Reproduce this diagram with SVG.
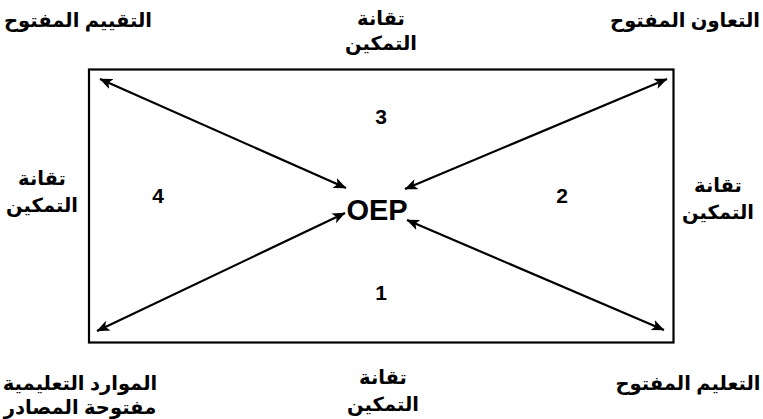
<svg xmlns="http://www.w3.org/2000/svg" width="763" height="419" viewBox="0 0 763 419">
<style>
.t{font-family:"Liberation Sans","DejaVu Sans",sans-serif;font-weight:bold;font-size:19.5px;fill:#000;text-anchor:middle}
.n{font-family:"Liberation Sans",Arial,sans-serif;font-weight:bold;font-size:21px;fill:#000;text-anchor:middle}
.c{stroke:#000;stroke-width:2.2;fill:none;marker-start:url(#a);marker-end:url(#a)}
</style>
<defs>
<marker id="a" viewBox="0 0 12 10" refX="11.5" refY="5" markerWidth="13" markerHeight="11" orient="auto-start-reverse" markerUnits="userSpaceOnUse"><path d="M0,0 L12,5 L0,10 L3,5 z" fill="#000"/></marker>
</defs>
<rect width="763" height="419" fill="#fff"/>
<g id="frame"><rect x="89" y="69.5" width="584.5" height="273" fill="none" stroke="#000" stroke-width="2.2"/></g>
<g id="connectors">
<line class="c" x1="100" y1="79" x2="346" y2="188"/>
<line class="c" x1="667" y1="79" x2="405" y2="189"/>
<line class="c" x1="97" y1="331" x2="345" y2="213"/>
<line class="c" x1="664" y1="330" x2="407" y2="220"/>
</g>
<g id="oep"><text class="n" x="377" y="220" style="font-size:29px">OEP</text></g>
<g id="q1"><text class="n" x="381" y="300">1</text></g>
<g id="q2"><text class="n" x="562" y="203">2</text></g>
<g id="q3"><text class="n" x="381" y="124">3</text></g>
<g id="q4"><text class="n" x="158" y="203">4</text></g>
<g id="open-assessment"><text class="t" x="78" y="27">التقييم المفتوح</text></g>
<g id="open-collaboration"><text class="t" x="685" y="27">التعاون المفتوح</text></g>
<g id="open-education"><text class="t" x="688" y="390">التعليم المفتوح</text></g>
<g id="oer"><text class="t" x="80" y="390">الموارد التعليمية</text><text class="t" x="80" y="414">مفتوحة المصادر</text></g>
<g id="tech-top"><text class="t" x="381" y="25">تقانة</text><text class="t" x="381" y="50">التمكين</text></g>
<g id="tech-left"><text class="t" x="42" y="185">تقانة</text><text class="t" x="42" y="212">التمكين</text></g>
<g id="tech-right"><text class="t" x="718" y="192">تقانة</text><text class="t" x="718" y="219">التمكين</text></g>
<g id="tech-bottom"><text class="t" x="383" y="384">تقانة</text><text class="t" x="383" y="411">التمكين</text></g>
</svg>
